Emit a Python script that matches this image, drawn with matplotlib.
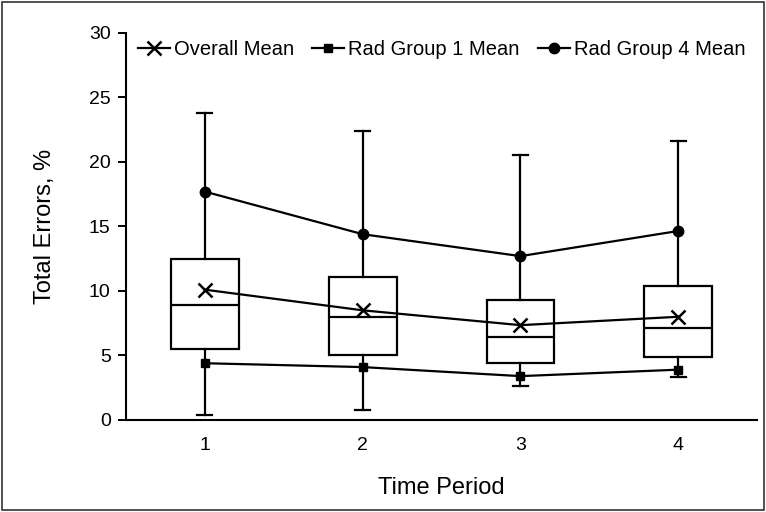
import matplotlib.pyplot as plt
from matplotlib.patches import Rectangle

plt.rcParams['font.family'] = ['Liberation Sans', 'DejaVu Sans']

# Data
periods = [1, 2, 3, 4]
whisker_low = [0.35, 0.75, 2.6, 3.3]
q1 = [5.5, 5.05, 4.45, 4.9]
median = [8.9, 8.0, 6.45, 7.1]
q3 = [12.5, 11.1, 9.3, 10.35]
whisker_high = [23.8, 22.4, 20.5, 21.6]

overall_mean = [10.1, 8.5, 7.35, 8.0]
rad_group1_mean = [4.4, 4.1, 3.4, 3.9]
rad_group4_mean = [17.7, 14.4, 12.7, 14.65]


def show_chart():
    fig = plt.figure(figsize=(7.66, 5.12), dpi=100)
    ax = fig.add_axes([0.1645, 0.1797, 0.824, 0.756])

    # Frame around the whole figure
    fig.patches.append(Rectangle((0.002, 0.003), 0.996, 0.994, transform=fig.transFigure,
                                 fill=False, edgecolor='#333333', linewidth=1.2))

    stats = []
    for i in range(len(periods)):
        stats.append({'whislo': whisker_low[i], 'q1': q1[i], 'med': median[i],
                      'q3': q3[i], 'whishi': whisker_high[i], 'fliers': []})

    ax.bxp(stats, positions=periods, widths=0.43, showfliers=False, patch_artist=True,
           boxprops=dict(facecolor='white', edgecolor='black', linewidth=1.6),
           medianprops=dict(color='black', linewidth=1.6),
           whiskerprops=dict(color='black', linewidth=1.6),
           capprops=dict(color='black', linewidth=1.6), capwidths=0.095)

    ax.plot(periods, overall_mean, color='black', linewidth=1.6, marker='x',
            markersize=10, markeredgewidth=1.8, label='Overall Mean')
    ax.plot(periods, rad_group1_mean, color='black', linewidth=1.6, marker='s',
            markersize=6, label='Rad Group 1 Mean')
    ax.plot(periods, rad_group4_mean, color='black', linewidth=1.6, marker='o',
            markersize=7.5, label='Rad Group 4 Mean')

    ax.set_xlim(0.5, 4.5)
    ax.set_ylim(0, 30)
    ax.set_yticks([0, 5, 10, 15, 20, 25, 30])
    ax.set_xticks(periods)
    ax.set_xticklabels([str(p) for p in periods])

    ax.spines['top'].set_visible(False)
    ax.spines['right'].set_visible(False)
    ax.spines['left'].set_linewidth(1.5)
    ax.spines['bottom'].set_linewidth(1.5)
    ax.tick_params(axis='y', direction='out', length=6, width=1.4, labelsize=14, pad=5)
    ax.tick_params(axis='x', length=0, labelsize=14, pad=12)

    ax.set_xlabel('Time Period', fontsize=17, labelpad=17)
    ax.set_ylabel('Total Errors, %', fontsize=17, labelpad=24)

    ax.legend(loc='upper center', bbox_to_anchor=(0.5, 1.003), ncol=3, frameon=False,
              fontsize=14.5, handlelength=1.6, handletextpad=0.2, columnspacing=0.9,
              borderaxespad=0)

    plt.savefig('out.png', dpi=100)


if __name__ == "__main__":
    show_chart()
